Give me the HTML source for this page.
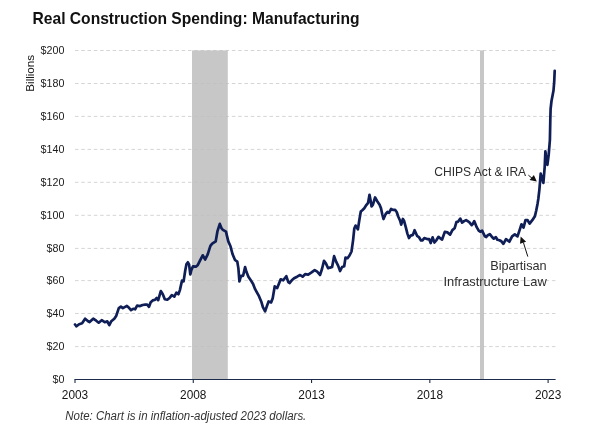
<!DOCTYPE html><html><head><meta charset="utf-8"><style>html,body{margin:0;padding:0;background:#fff;}svg{display:block;will-change:transform;}</style></head><body>
<svg width="600" height="447" viewBox="0 0 600 447" font-family='"Liberation Sans", sans-serif'>
<rect width="600" height="447" fill="#fff"/>
<line x1="75" x2="555.5" y1="346.60" y2="346.60" stroke="#d5d5d5" stroke-width="1" stroke-dasharray="3.55 2.725"/>
<line x1="75" x2="555.5" y1="313.50" y2="313.50" stroke="#d5d5d5" stroke-width="1" stroke-dasharray="3.55 2.725"/>
<line x1="75" x2="555.5" y1="280.60" y2="280.60" stroke="#d5d5d5" stroke-width="1" stroke-dasharray="3.55 2.725"/>
<line x1="75" x2="555.5" y1="248.40" y2="248.40" stroke="#d5d5d5" stroke-width="1" stroke-dasharray="3.55 2.725"/>
<line x1="75" x2="555.5" y1="215.30" y2="215.30" stroke="#d5d5d5" stroke-width="1" stroke-dasharray="3.55 2.725"/>
<line x1="75" x2="555.5" y1="182.30" y2="182.30" stroke="#d5d5d5" stroke-width="1" stroke-dasharray="3.55 2.725"/>
<line x1="75" x2="555.5" y1="149.40" y2="149.40" stroke="#d5d5d5" stroke-width="1" stroke-dasharray="3.55 2.725"/>
<line x1="75" x2="555.5" y1="116.40" y2="116.40" stroke="#d5d5d5" stroke-width="1" stroke-dasharray="3.55 2.725"/>
<line x1="75" x2="555.5" y1="83.50" y2="83.50" stroke="#d5d5d5" stroke-width="1" stroke-dasharray="3.55 2.725"/>
<line x1="75" x2="555.5" y1="50.50" y2="50.50" stroke="#d5d5d5" stroke-width="1" stroke-dasharray="3.55 2.725"/>
<rect x="192" y="50.40" width="35.8" height="328.60" fill="#bdbdbd" fill-opacity="0.85"/>
<rect x="480" y="50.40" width="4" height="328.60" fill="#bdbdbd" fill-opacity="0.85"/>
<text x="64.4" y="383.35" font-size="10.7" text-anchor="end" fill="#1a1a1a">$0</text>
<text x="64.4" y="350.45" font-size="10.7" text-anchor="end" fill="#1a1a1a">$20</text>
<text x="64.4" y="317.35" font-size="10.7" text-anchor="end" fill="#1a1a1a">$40</text>
<text x="64.4" y="284.45" font-size="10.7" text-anchor="end" fill="#1a1a1a">$60</text>
<text x="64.4" y="252.25" font-size="10.7" text-anchor="end" fill="#1a1a1a">$80</text>
<text x="64.4" y="219.15" font-size="10.7" text-anchor="end" fill="#1a1a1a">$100</text>
<text x="64.4" y="186.15" font-size="10.7" text-anchor="end" fill="#1a1a1a">$120</text>
<text x="64.4" y="153.25" font-size="10.7" text-anchor="end" fill="#1a1a1a">$140</text>
<text x="64.4" y="120.25" font-size="10.7" text-anchor="end" fill="#1a1a1a">$160</text>
<text x="64.4" y="87.35" font-size="10.7" text-anchor="end" fill="#1a1a1a">$180</text>
<text x="64.4" y="54.35" font-size="10.7" text-anchor="end" fill="#1a1a1a">$200</text>
<line x1="74.5" x2="555.6" y1="379.5" y2="379.5" stroke="#1c2b4b" stroke-width="1.1"/>
<line x1="75.00" x2="75.00" y1="379.5" y2="383.0" stroke="#1c2b4b" stroke-width="1.1"/>
<text x="75.00" y="398.9" font-size="12.7" text-anchor="middle" fill="#151515" textLength="26.4" lengthAdjust="spacingAndGlyphs">2003</text>
<line x1="193.28" x2="193.28" y1="379.5" y2="383.0" stroke="#1c2b4b" stroke-width="1.1"/>
<text x="193.28" y="398.9" font-size="12.7" text-anchor="middle" fill="#151515" textLength="26.4" lengthAdjust="spacingAndGlyphs">2008</text>
<line x1="311.55" x2="311.55" y1="379.5" y2="383.0" stroke="#1c2b4b" stroke-width="1.1"/>
<text x="311.55" y="398.9" font-size="12.7" text-anchor="middle" fill="#151515" textLength="26.4" lengthAdjust="spacingAndGlyphs">2013</text>
<line x1="429.83" x2="429.83" y1="379.5" y2="383.0" stroke="#1c2b4b" stroke-width="1.1"/>
<text x="429.83" y="398.9" font-size="12.7" text-anchor="middle" fill="#151515" textLength="26.4" lengthAdjust="spacingAndGlyphs">2018</text>
<line x1="548.10" x2="548.10" y1="379.5" y2="383.0" stroke="#1c2b4b" stroke-width="1.1"/>
<text x="548.10" y="398.9" font-size="12.7" text-anchor="middle" fill="#151515" textLength="26.4" lengthAdjust="spacingAndGlyphs">2023</text>
<path d="M75.0,324.5 L76.5,326.3 L79.1,324.2 L82.1,323.2 L85.1,318.7 L88.1,321.2 L89.6,322.0 L93.2,318.7 L96.2,320.7 L98.7,322.7 L101.7,320.2 L104.7,322.2 L107.3,321.4 L109.3,325.2 L111.3,321.2 L114.3,318.7 L116.3,315.7 L118.8,308.1 L120.9,306.6 L122.9,308.1 L126.9,305.9 L129.0,307.8 L131.0,310.1 L133.1,308.8 L135.1,309.3 L137.1,305.7 L140.1,306.1 L142.6,305.0 L145.1,304.7 L147.2,304.7 L149.0,306.8 L150.7,302.2 L152.7,300.4 L155.2,299.7 L156.7,298.0 L158.2,300.2 L160.8,291.1 L162.8,294.2 L164.8,299.2 L167.3,299.7 L169.8,297.7 L171.8,295.2 L174.3,296.7 L176.4,292.7 L178.4,294.2 L179.9,290.1 L182.0,280.6 L183.6,281.4 L185.2,270.7 L186.4,264.4 L187.9,262.3 L189.1,264.6 L190.3,274.4 L191.4,269.9 L193.0,266.4 L195.9,266.7 L197.6,265.3 L200.1,260.3 L202.7,255.3 L205.2,259.5 L207.7,254.4 L210.4,245.9 L212.2,243.6 L215.7,241.4 L217.5,231.1 L219.8,223.9 L221.6,228.4 L222.9,229.8 L226.0,231.6 L226.9,235.6 L228.3,241.4 L230.5,246.3 L232.5,254.0 L235.0,260.0 L237.3,261.7 L238.4,268.4 L239.4,281.5 L241.0,275.8 L243.1,275.8 L245.1,267.1 L246.4,271.8 L248.4,276.8 L251.1,280.8 L253.1,283.9 L255.1,289.2 L259.0,296.2 L261.3,301.7 L262.9,307.2 L265.1,311.3 L266.8,306.4 L268.6,301.4 L271.1,302.4 L272.7,298.2 L274.7,286.4 L277.2,288.1 L278.7,284.3 L280.7,279.3 L283.2,280.3 L286.3,276.2 L288.3,282.1 L289.5,283.0 L291.8,280.3 L294.1,278.2 L297.1,276.7 L300.1,275.0 L302.6,276.7 L305.1,274.2 L308.2,274.7 L311.2,272.7 L314.7,270.2 L317.2,271.7 L320.0,275.0 L322.0,269.0 L324.0,260.9 L326.0,263.6 L328.1,268.3 L330.1,267.6 L332.1,267.0 L334.1,256.2 L336.1,261.6 L338.1,265.6 L340.1,271.0 L342.1,267.0 L344.2,266.3 L345.5,257.6 L347.5,258.2 L349.5,255.5 L351.5,251.5 L353.1,240.1 L354.3,228.5 L355.6,225.6 L357.9,229.4 L359.1,221.5 L360.1,215.5 L360.8,211.5 L362.3,210.2 L364.3,208.2 L366.3,205.1 L368.1,202.8 L369.5,194.8 L370.7,201.1 L371.6,206.5 L372.9,204.7 L375.1,197.5 L376.9,200.7 L379.6,204.7 L381.0,208.3 L382.3,214.5 L383.5,219.0 L385.7,214.0 L387.5,212.0 L389.0,212.8 L391.1,209.0 L392.9,209.9 L395.1,209.9 L396.7,212.0 L398.2,216.5 L400.1,220.7 L401.2,224.6 L402.9,219.0 L404.0,220.7 L405.7,226.9 L407.4,233.6 L409.0,238.1 L410.7,235.6 L412.9,234.9 L414.6,230.2 L417.3,236.2 L419.0,237.2 L421.0,240.5 L422.5,240.3 L424.3,238.0 L427.7,239.2 L429.2,239.2 L430.7,243.0 L432.6,237.4 L434.5,242.5 L436.2,240.5 L438.5,236.8 L440.5,238.5 L442.1,239.5 L444.8,231.9 L447.4,232.4 L450.1,234.6 L452.4,230.1 L454.6,228.3 L456.4,222.1 L458.2,221.6 L460.3,218.6 L462.1,222.6 L464.1,221.1 L466.1,220.1 L469.2,222.1 L471.7,225.1 L472.7,224.1 L474.2,221.1 L475.2,223.6 L476.7,227.2 L478.7,230.7 L480.2,231.7 L482.1,230.7 L483.3,233.2 L484.8,236.2 L486.3,237.0 L487.8,235.2 L489.8,234.2 L491.8,236.7 L493.8,238.7 L495.9,237.2 L497.4,239.7 L499.4,240.2 L501.4,241.3 L503.4,243.8 L506.0,239.1 L509.4,241.7 L512.1,236.4 L514.8,234.4 L517.5,236.4 L519.5,230.3 L521.5,224.3 L523.5,227.6 L525.5,220.2 L527.6,220.2 L529.6,223.6 L532.3,220.2 L534.9,216.2 L536.3,210.2 L537.6,203.4 L538.3,199.0 L539.4,189.6 L540.7,173.5 L543.4,182.9 L544.7,166.8 L545.4,151.4 L547.4,164.8 L548.7,154.7 L549.9,140.0 L550.3,120.0 L550.6,109.0 L551.5,101.0 L553.5,90.5 L554.2,82.0 L554.7,70.8" fill="none" stroke="#0f1e56" stroke-width="2.7" stroke-linejoin="round" stroke-linecap="round"/>
<text x="32.5" y="23.5" font-size="16.3" font-weight="bold" fill="#111" textLength="327" lengthAdjust="spacingAndGlyphs">Real Construction Spending: Manufacturing</text>
<text transform="translate(33.9,73.3) rotate(-90)" font-size="11.2" text-anchor="middle" fill="#111" textLength="36.8" lengthAdjust="spacingAndGlyphs">Billions</text>
<text x="434.2" y="176.3" font-size="12.6" fill="#2e2e2e" textLength="92" lengthAdjust="spacingAndGlyphs">CHIPS Act &amp; IRA</text>
<text x="546.7" y="270" font-size="12.6" fill="#2e2e2e" text-anchor="end" textLength="56.5" lengthAdjust="spacingAndGlyphs">Bipartisan</text>
<text x="546.7" y="285.8" font-size="12.6" fill="#2e2e2e" text-anchor="end" textLength="103.2" lengthAdjust="spacingAndGlyphs">Infrastructure Law</text>
<line x1="528.4" y1="175.2" x2="532.5" y2="178.6" stroke="#111" stroke-width="1"/>
<polygon points="536.8,181.4 529.6,180.1 533.9,175.1" fill="#111"/>
<line x1="527.8" y1="256.6" x2="523.4" y2="242.5" stroke="#111" stroke-width="1"/>
<polygon points="520.7,236.4 520,243.8 526.1,241.7" fill="#111"/>
<text x="65.3" y="420.2" font-size="12" font-style="italic" fill="#333" textLength="241" lengthAdjust="spacingAndGlyphs">Note: Chart is in inflation-adjusted 2023 dollars.</text>
</svg></body></html>
